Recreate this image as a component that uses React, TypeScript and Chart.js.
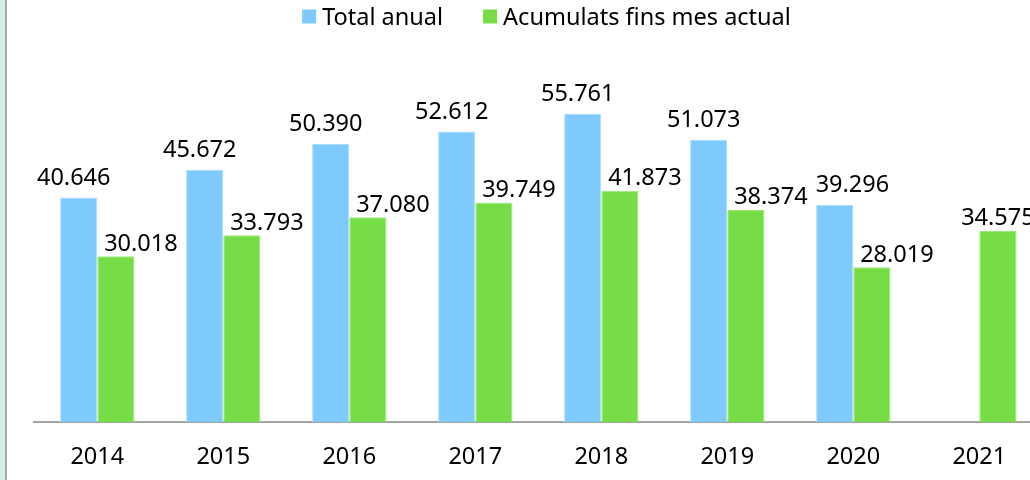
import React, { useEffect, useRef } from "react";
import { Chart, registerables } from "chart.js";

Chart.register(...registerables);

const categories = ["2014", "2015", "2016", "2017", "2018", "2019", "2020", "2021"];
const totalAnual: (number | null)[] = [40646, 45672, 50390, 52612, 55761, 51073, 39296, null];
const acumulats: (number | null)[] = [30018, 33793, 37080, 39749, 41873, 38374, 28019, 34575];
const seriesNames = ["Total anual", "Acumulats fins mes actual"];
const seriesColors = ["#7ecafc", "#77dd46"];
const seriesBorders = ["#a9dcfd", "#9be878"];

const FONT_FAMILY = '"Noto Sans", sans-serif';
const FONT_SIZE = 23.5;

function fmt(v: number): string {
  return String(Math.round(v)).replace(/\B(?=(\d{3})+(?!\d))/g, ".");
}

const valueLabels = {
  id: "valueLabels",
  afterDatasetsDraw(chart: any) {
    const ctx = chart.ctx;
    ctx.save();
    ctx.font = `${FONT_SIZE}px ${FONT_FAMILY}`;
    ctx.fillStyle = "#000";
    ctx.textAlign = "center";
    ctx.textBaseline = "alphabetic";
    const blue = chart.data.datasets[0];
    const green = chart.data.datasets[1];
    const mBlue = chart.getDatasetMeta(0);
    const mGreen = chart.getDatasetMeta(1);
    const n = chart.data.labels.length;
    let prevGreen: { right: number; cy: number } | null = null;
    for (let i = 0; i < n; i++) {
      const vb = blue.data[i];
      const vg = green.data[i];
      if (vb != null) {
        const el = mBlue.data[i];
        const text = fmt(vb);
        const w = ctx.measureText(text).width;
        let cx = el.x - 5;
        const cy = el.y - 21;
        if (prevGreen && Math.abs(prevGreen.cy - cy) < FONT_SIZE && cx - w / 2 < prevGreen.right + 8) {
          cx = prevGreen.right + 8 + w / 2;
        }
        ctx.fillText(text, cx, cy + 0.357 * FONT_SIZE);
      }
      if (vg != null) {
        const el = mGreen.data[i];
        const text = fmt(vg);
        const w = ctx.measureText(text).width;
        const cx = el.x + (vb == null ? 0 : 25);
        const cy = el.y - 14;
        ctx.fillText(text, cx, cy + 0.357 * FONT_SIZE);
        prevGreen = { right: cx + w / 2, cy };
      } else {
        prevGreen = null;
      }
    }
    ctx.restore();
  },
};

const customLegend = {
  id: "customLegend",
  afterDraw(chart: any) {
    const ctx = chart.ctx;
    ctx.save();
    ctx.font = `${FONT_SIZE}px ${FONT_FAMILY}`;
    const box = 14;
    const gapText = 6;
    const gapItem = 40;
    const widths = chart.data.datasets.map((ds: any) => ctx.measureText(ds.label).width);
    const total =
      widths.reduce((a: number, w: number) => a + box + gapText + w, 0) + gapItem * (widths.length - 1);
    const centerX = 539.5;
    let x = centerX - total / 2;
    const cy = 16.5;
    chart.data.datasets.forEach((ds: any, i: number) => {
      ctx.fillStyle = ds.backgroundColor;
      ctx.fillRect(x, cy - box / 2, box, box);
      ctx.fillStyle = "#000";
      ctx.textAlign = "left";
      ctx.textBaseline = "alphabetic";
      ctx.fillText(ds.label, x + box + gapText, 25);
      x += box + gapText + widths[i] + gapItem;
    });
    ctx.restore();
  },
};

export default function App() {
  const canvasRef = useRef<HTMLCanvasElement | null>(null);

  useEffect(() => {
    if (!canvasRef.current) return;
    const chart = new Chart(canvasRef.current, {
      type: "bar",
      data: {
        labels: categories,
        datasets: [
          {
            label: seriesNames[0],
            data: totalAnual,
            backgroundColor: seriesColors[0],
            borderColor: seriesBorders[0],
            borderWidth: 1,
          },
          {
            label: seriesNames[1],
            data: acumulats,
            backgroundColor: seriesColors[1],
            borderColor: seriesBorders[1],
            borderWidth: 1,
          },
        ],
      },
      options: {
        animation: false,
        responsive: false,
        devicePixelRatio: 1,
        layout: { padding: { top: 90.6, left: 27.3, right: 43.7, bottom: 0 } },
        datasets: { bar: { categoryPercentage: 0.59, barPercentage: 1 } },
        plugins: {
          legend: { display: false },
          tooltip: { enabled: false },
        },
        scales: {
          x: {
            z: 1,
            grid: { display: false, drawTicks: false },
            border: { display: true, color: "#a3a3a3", width: 2 },
            ticks: {
              color: "#000",
              padding: 21,
              font: { family: FONT_FAMILY, size: FONT_SIZE },
              maxRotation: 0,
            },
            afterFit: (scale: any) => {
              scale.height = 58;
            },
          },
          y: {
            display: false,
            min: 0,
            max: 60000,
          },
        },
      },
      plugins: [valueLabels, customLegend],
    });
    return () => chart.destroy();
  }, []);

  return (
    <div
      style={{
        position: "fixed",
        left: 0,
        top: 0,
        width: 1030,
        height: 480,
        overflow: "hidden",
        background: "#ffffff",
      }}
    >
      <div style={{ position: "absolute", left: 0, top: 0, width: 5, height: 480, background: "#d4eee0" }} />
      <div style={{ position: "absolute", left: 5, top: 0, width: 2, height: 480, background: "#a8aca9" }} />
      <canvas
        ref={canvasRef}
        width={1079}
        height={480}
        style={{ position: "absolute", left: 7, top: 0, width: 1079, height: 480 }}
      />
    </div>
  );
}
